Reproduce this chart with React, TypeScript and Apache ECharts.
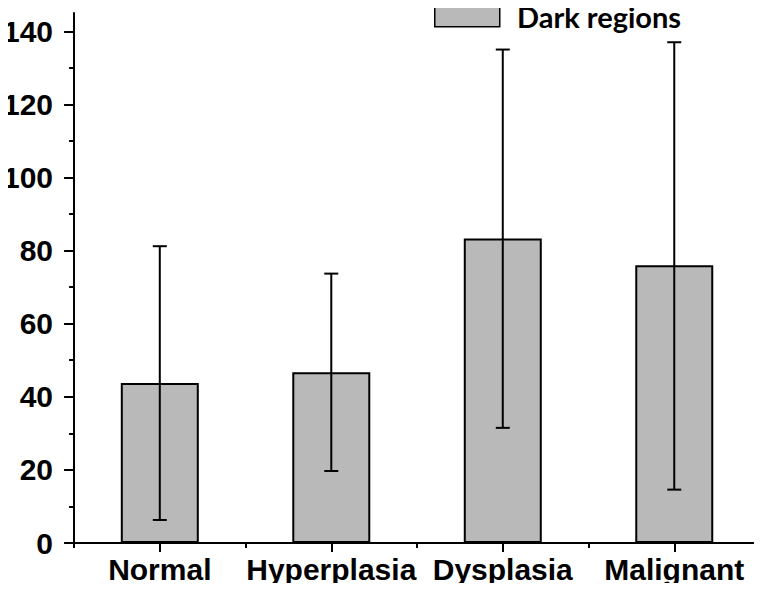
import React, { useEffect, useRef } from "react";
import * as echarts from "echarts";

const categories = ["Normal", "Hyperplasia", "Dysplasia", "Malignant"];
const means = [43.8, 46.7, 83.3, 76.0];
const lows = [6.3, 19.7, 31.5, 14.6];
const highs = [81.2, 73.7, 135.0, 137.0];
const majorTicks = [0, 20, 40, 60, 80, 100, 120, 140];
const minorTicks = [10, 30, 50, 70, 90, 110, 130];
const seriesName = "Dark regions";

export default function App() {
  const ref = useRef<HTMLDivElement>(null);
  useEffect(() => {
    if (!ref.current) return;
    const chart = echarts.init(ref.current, null, { renderer: "svg" });
    const font = "'Liberation Sans', Arial, sans-serif";
    const barColor = "#b9b9b9";
    const errData = categories.map((c, i) => [i, means[i], lows[i], highs[i]]);
    chart.setOption({
      animation: false,
      backgroundColor: "#ffffff",
      grid: { left: 68, right: 2, top: 13, bottom: 48, containLabel: false },
      legend: { show: false },
      graphic: [
        {
          type: "rect",
          left: 434,
          top: 1,
          shape: { x: 0, y: 0, width: 65, height: 25 },
          style: { fill: barColor, stroke: "#000", lineWidth: 1.5 },
          silent: true,
        },
        {
          type: "text",
          left: 517,
          top: 2,
          style: {
            text: seriesName,
            fill: "#000",
            font: "bold 29px Lato, 'Liberation Sans', sans-serif",
          },
          silent: true,
        },
      ],
      xAxis: [
        {
          type: "category",
          data: categories,
          position: "bottom",
          boundaryGap: true,
          axisLine: { show: true, lineStyle: { color: "#000", width: 2 } },
          axisTick: { show: true, alignWithLabel: true, length: 9, lineStyle: { color: "#000", width: 2 } },
          axisLabel: {
            show: true,
            color: "#000",
            fontFamily: font,
            fontWeight: "bold",
            fontSize: 30,
            lineHeight: 30,
            margin: 11,
            interval: 0,
          },
          splitLine: { show: false },
        },
        {
          type: "category",
          data: categories,
          position: "bottom",
          boundaryGap: true,
          axisLine: { show: false },
          axisTick: { show: true, alignWithLabel: false, length: 5, lineStyle: { color: "#000", width: 2 } },
          axisLabel: { show: false },
          splitLine: { show: false },
        },
      ],
      yAxis: [
        {
          type: "value",
          min: 0,
          max: 145,
          position: "left",
          axisLine: { show: true, lineStyle: { color: "#000", width: 2 } },
          axisTick: { show: true, length: 10, customValues: majorTicks, lineStyle: { color: "#000", width: 2 } },
          axisLabel: {
            show: true,
            customValues: majorTicks,
            color: "#000",
            fontFamily: font,
            fontWeight: "bold",
            fontSize: 30,
            margin: 21,
          },
          splitLine: { show: false },
        },
        {
          type: "value",
          min: 0,
          max: 145,
          position: "left",
          axisLine: { show: false },
          axisTick: { show: true, length: 5, customValues: minorTicks, lineStyle: { color: "#000", width: 2 } },
          axisLabel: { show: false },
          splitLine: { show: false },
        },
      ],
      series: [
        {
          name: seriesName,
          type: "bar",
          xAxisIndex: 0,
          yAxisIndex: 0,
          data: means,
          barWidth: 78,
          itemStyle: { color: barColor, borderColor: "#000", borderWidth: 2 },
        },
        {
          name: "err",
          type: "custom",
          xAxisIndex: 0,
          yAxisIndex: 0,
          data: errData,
          z: 10,
          renderItem: (params: any, api: any) => {
            const x = api.value(0);
            const lo = api.coord([x, api.value(2)]);
            const hi = api.coord([x, api.value(3)]);
            const hw = 7;
            const style = { stroke: "#000", lineWidth: 2, fill: "none" };
            return {
              type: "group",
              children: [
                { type: "line", shape: { x1: lo[0], y1: lo[1], x2: hi[0], y2: hi[1] }, style },
                { type: "line", shape: { x1: lo[0] - hw, y1: lo[1], x2: lo[0] + hw, y2: lo[1] }, style },
                { type: "line", shape: { x1: hi[0] - hw, y1: hi[1], x2: hi[0] + hw, y2: hi[1] }, style },
              ],
            };
          },
        },
      ],
    });
    return () => chart.dispose();
  }, []);
  return <div ref={ref} style={{ width: 762, height: 591, margin: -8 }} />;
}
